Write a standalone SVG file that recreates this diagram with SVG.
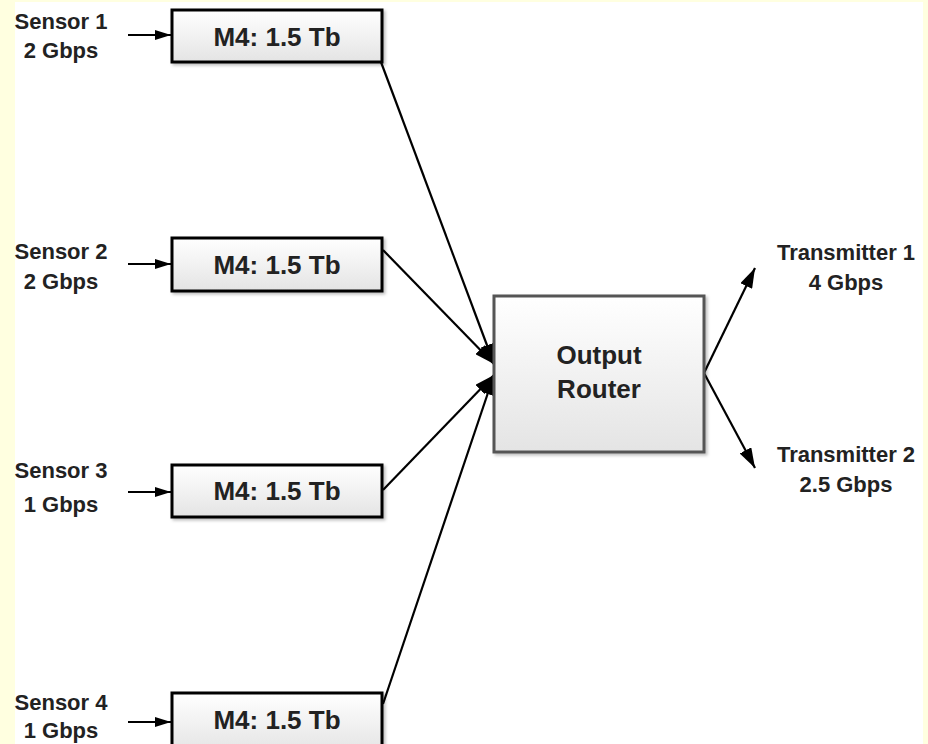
<svg xmlns="http://www.w3.org/2000/svg" width="928" height="744" viewBox="0 0 928 744">
  <defs>
    <linearGradient id="boxFill" x1="0" y1="0" x2="0" y2="1">
      <stop offset="0" stop-color="#ffffff"/>
      <stop offset="1" stop-color="#e4e4e4"/>
    </linearGradient>
    <marker id="arrow" viewBox="0 0 16 10" refX="16" refY="5" markerWidth="16" markerHeight="10" markerUnits="userSpaceOnUse" orient="auto">
      <path d="M0,0 L16,5 L0,10 Z" fill="#000"/>
    </marker>
    <marker id="arrowBig" viewBox="0 0 20 13" refX="20" refY="6.5" markerWidth="20" markerHeight="13" markerUnits="userSpaceOnUse" orient="auto">
      <path d="M0,0 L20,6.5 L0,13 Z" fill="#000"/>
    </marker>
    <filter id="shadow" x="-10%" y="-10%" width="130%" height="130%">
      <feDropShadow dx="2" dy="2" stdDeviation="1.5" flood-color="#000" flood-opacity="0.25"/>
    </filter>
  </defs>
  <style>
    text { font-family: "Liberation Sans", Arial, sans-serif; font-weight: bold; fill: #222; text-anchor: middle; }
    .label { font-size: 22px; }
    .boxText { font-size: 26px; }
    .mem { stroke: #000; stroke-width: 3; fill: url(#boxFill); filter: url(#shadow); }
    .router { stroke: #555; stroke-width: 3; fill: url(#boxFill); filter: url(#shadow); }
    .wire { stroke: #000; stroke-width: 2.2; fill: none; }
  </style>

  <!-- page background -->
  <rect x="0" y="0" width="928" height="744" fill="#ffffe0"/>
  <rect x="15" y="2" width="908" height="742" fill="#ffffff"/>

  <!-- connectors -->
  <g id="connectors">
    <line class="wire" x1="128" y1="35" x2="171" y2="35" marker-end="url(#arrow)"/>
    <line class="wire" x1="128" y1="264" x2="171" y2="264" marker-end="url(#arrow)"/>
    <line class="wire" x1="128" y1="492" x2="171" y2="492" marker-end="url(#arrow)"/>
    <line class="wire" x1="128" y1="722" x2="171" y2="722" marker-end="url(#arrow)"/>
    <line class="wire" x1="381" y1="62" x2="494" y2="364" marker-end="url(#arrowBig)"/>
    <line class="wire" x1="383" y1="250" x2="494" y2="364" marker-end="url(#arrowBig)"/>
    <line class="wire" x1="383" y1="490" x2="494" y2="375" marker-end="url(#arrowBig)"/>
    <line class="wire" x1="383" y1="704" x2="494" y2="375" marker-end="url(#arrowBig)"/>
    <line class="wire" x1="704" y1="373" x2="755" y2="268" marker-end="url(#arrowBig)"/>
    <line class="wire" x1="704" y1="373" x2="755" y2="468" marker-end="url(#arrowBig)"/>
  </g>

  <!-- input labels -->
  <g id="sensor1"><text class="label" x="61" y="29">Sensor 1</text><text class="label" x="61" y="58">2 Gbps</text></g>
  <g id="sensor2"><text class="label" x="61" y="259">Sensor 2</text><text class="label" x="61" y="289">2 Gbps</text></g>
  <g id="sensor3"><text class="label" x="61" y="478">Sensor 3</text><text class="label" x="61" y="512">1 Gbps</text></g>
  <g id="sensor4"><text class="label" x="61" y="710">Sensor 4</text><text class="label" x="61" y="738">1 Gbps</text></g>

  <!-- memory buffers -->
  <g id="mem1"><rect class="mem" x="172" y="10" width="210" height="52"/><text class="boxText" x="277" y="46">M4: 1.5 Tb</text></g>
  <g id="mem2"><rect class="mem" x="172" y="238" width="210" height="53"/><text class="boxText" x="277" y="274">M4: 1.5 Tb</text></g>
  <g id="mem3"><rect class="mem" x="172" y="465" width="210" height="52"/><text class="boxText" x="277" y="500">M4: 1.5 Tb</text></g>
  <g id="mem4"><rect class="mem" x="172" y="693" width="210" height="60"/><text class="boxText" x="277" y="729">M4: 1.5 Tb</text></g>

  <!-- router -->
  <g id="router">
    <rect class="router" x="494" y="296" width="210" height="156"/>
    <text class="boxText" x="599" y="364">Output</text>
    <text class="boxText" x="599" y="398">Router</text>
  </g>

  <!-- output labels -->
  <g id="tx1"><text class="label" x="846" y="260">Transmitter 1</text><text class="label" x="846" y="290">4 Gbps</text></g>
  <g id="tx2"><text class="label" x="846" y="462">Transmitter 2</text><text class="label" x="846" y="492">2.5 Gbps</text></g>
</svg>
